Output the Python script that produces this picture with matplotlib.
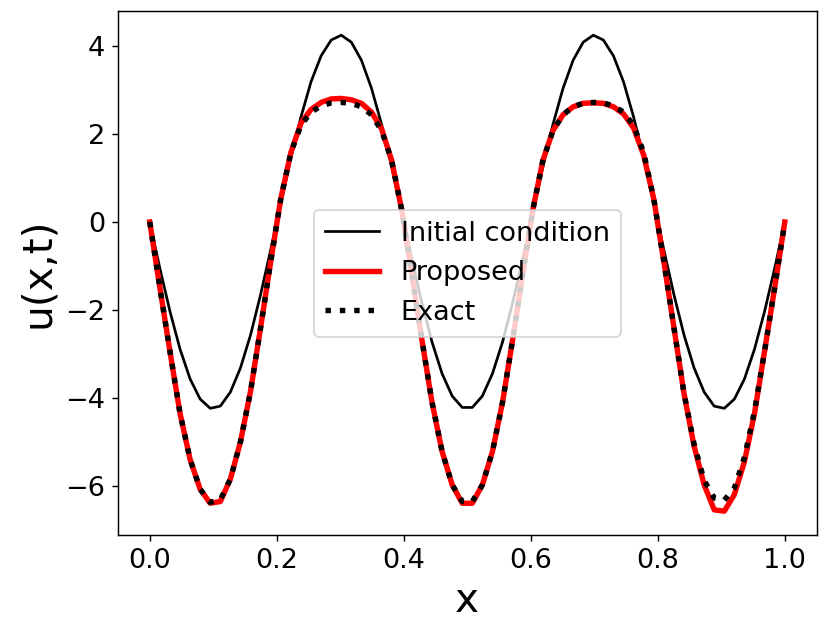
import numpy as np
import matplotlib
matplotlib.use("Agg")
import matplotlib.pyplot as plt

# 64 grid points on [0, 1]
x = np.linspace(0.0, 1.0, 64)

initial = [
    0.00, -1.05, -2.03, -2.89, -3.57, -4.03, -4.24, -4.19,
    -3.87, -3.32, -2.57, -1.65, -0.63, 0.42, 1.45, 2.39,
    3.19, 3.78, 4.14, 4.25, 4.09, 3.68, 3.04, 2.22,
    1.25, 0.21, -0.84, -1.84, -2.73, -3.45, -3.96, -4.22,
    -4.22, -3.96, -3.45, -2.73, -1.84, -0.84, 0.21, 1.25,
    2.22, 3.04, 3.68, 4.09, 4.25, 4.14, 3.78, 3.19,
    2.39, 1.45, 0.42, -0.63, -1.65, -2.57, -3.32, -3.87,
    -4.19, -4.24, -4.03, -3.57, -2.89, -2.03, -1.05, 0.00,
]

exact = [
    0.00, -1.49, -2.94, -4.35, -5.40, -6.08, -6.38, -6.32,
    -5.85, -5.00, -3.85, -2.40, -0.90, 0.53, 1.58, 2.20,
    2.50, 2.64, 2.71, 2.72, 2.70, 2.62, 2.44, 2.08,
    1.40, 0.27, -1.19, -2.68, -4.10, -5.22, -5.98, -6.36,
    -6.36, -5.98, -5.22, -4.10, -2.68, -1.19, 0.27, 1.40,
    2.08, 2.44, 2.62, 2.70, 2.72, 2.71, 2.64, 2.50,
    2.20, 1.58, 0.53, -0.90, -2.40, -3.90, -5.05, -5.88,
    -6.28, -6.33, -6.05, -5.35, -4.30, -2.93, -1.49, 0.00,
]

proposed = [
    0.00, -1.49, -2.94, -4.35, -5.40, -6.08, -6.40, -6.36,
    -5.85, -5.00, -3.85, -2.40, -0.90, 0.53, 1.58, 2.25,
    2.56, 2.72, 2.80, 2.81, 2.78, 2.70, 2.50, 2.12,
    1.40, 0.27, -1.19, -2.68, -4.10, -5.22, -5.98, -6.40,
    -6.40, -5.98, -5.22, -4.10, -2.68, -1.19, 0.27, 1.40,
    2.08, 2.44, 2.62, 2.70, 2.71, 2.70, 2.62, 2.46,
    2.14, 1.52, 0.53, -0.90, -2.40, -3.90, -5.10, -5.98,
    -6.55, -6.58, -6.20, -5.45, -4.35, -2.93, -1.49, 0.00,
]

DPI = 130
fig = plt.figure(figsize=(831 / DPI, 639 / DPI), dpi=DPI)
ax = fig.add_axes([0.142, 0.1628, 0.8406, 0.8194])

ax.plot(x, initial, color='black', lw=1.5, label='Initial condition')
ax.plot(x, proposed, color='red', lw=3, label='Proposed')
ax.plot(x, exact, color='black', lw=3, ls=':', label='Exact')

ax.set_xlabel('x', fontsize=22.5)
ax.set_ylabel('u(x,t)', fontsize=22.5)
ax.tick_params(labelsize=15)
ax.legend(loc='center', fontsize=15)

fig.savefig('out.png', dpi=DPI)
